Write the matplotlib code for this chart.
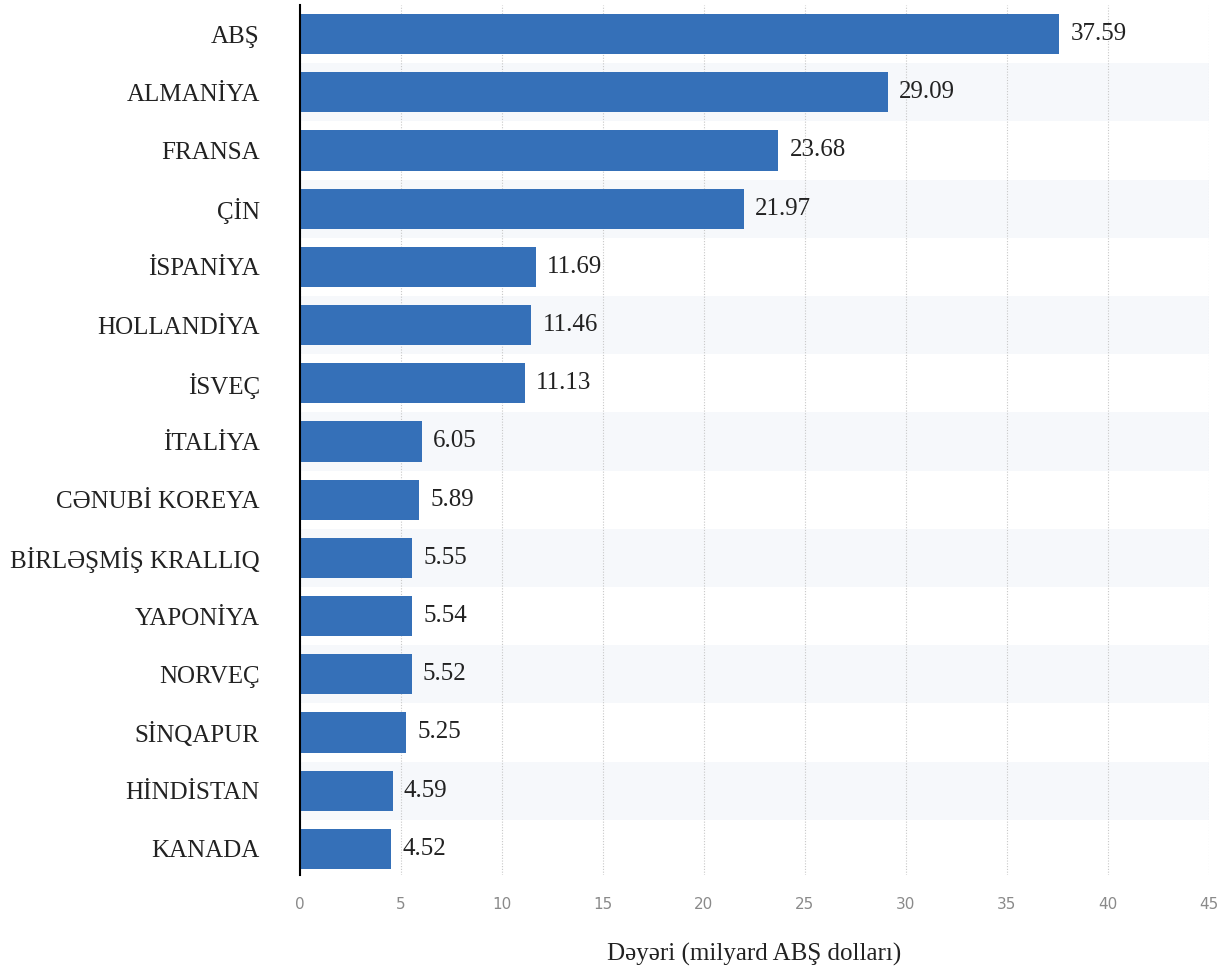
import matplotlib
matplotlib.use("Agg")
from matplotlib import pyplot as plt

countries = ["ABŞ", "ALMANİYA", "FRANSA", "ÇİN", "İSPANİYA", "HOLLANDİYA", "İSVEÇ",
             "İTALİYA", "CƏNUBİ KOREYA", "BİRLƏŞMİŞ KRALLIQ", "YAPONİYA", "NORVEÇ",
             "SİNQAPUR", "HİNDİSTAN", "KANADA"]
values = [37.59, 29.09, 23.68, 21.97, 11.69, 11.46, 11.13,
          6.05, 5.89, 5.55, 5.54, 5.52, 5.25, 4.59, 4.52]
xticks = [0, 5, 10, 15, 20, 25, 30, 35, 40, 45]
xlabel = "Dəyəri (milyard ABŞ dolları)"

serif = ["Liberation Serif", "DejaVu Serif"]

fig = plt.figure(figsize=(12.2, 9.69), dpi=100)
ax = fig.add_axes([300 / 1220, 1 - 875 / 969, 909 / 1220, 870 / 969])

pos = list(range(len(countries)))

# alternating row bands
for i in pos:
    if i % 2 == 1:
        ax.axhspan(i - 0.5, i + 0.5, color="#f6f8fb", zorder=0, lw=0)

ax.barh(pos, values, height=0.69, color="#3570b8", zorder=3)

for i, v in zip(pos, values):
    ax.annotate(f"{v:.2f}", (v, i), xytext=(8, 0), textcoords="offset points",
                va="center", ha="left", fontsize=18, family=serif, color="#222222")

ax.set_xlim(0, 45)
ax.set_ylim(14.45, -0.5)
ax.set_xticks(xticks)
ax.set_xticklabels([str(t) for t in xticks], color="#8a8a8a", fontsize=11,
                   family=["Liberation Sans Narrow", "DejaVu Sans"])
ax.set_yticks(pos)
ax.set_yticklabels(countries, fontsize=18, family=serif, color="#222222")
ax.tick_params(axis="y", length=0, pad=29)
ax.tick_params(axis="x", length=0, pad=16)

ax.grid(axis="x", color="#c8c8c8", linestyle=(0, (1, 1.5)), linewidth=0.8, zorder=1)
for s in ["top", "right", "bottom"]:
    ax.spines[s].set_visible(False)
ax.spines["left"].set_color("black")
ax.spines["left"].set_linewidth(1.5)
ax.spines["left"].set_zorder(4)

ax.set_xlabel(xlabel, fontsize=18, family=serif, color="#222222", labelpad=22)

fig.savefig("out.png", dpi=100)
